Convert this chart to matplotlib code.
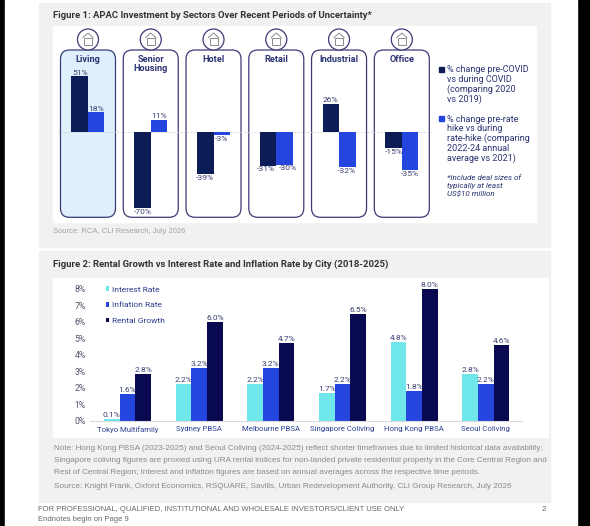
import matplotlib
matplotlib.use("Agg")
import matplotlib.pyplot as plt
from matplotlib.patches import FancyBboxPatch, Rectangle, Circle, Polygon
import numpy as np

W, H = 590, 526

# ---- Figure 1 data
sectors = ['Living', 'Senior\nHousing', 'Hotel', 'Retail', 'Industrial', 'Office']
covid_change = [51, -70, -39, -31, 26, -15]
ratehike_change = [18, 11, -3, -30, -32, -35]
fig1_legend = [['% change pre-COVID', 'vs during COVID', '(comparing 2020', 'vs 2019)'],
               ['% change pre-rate', 'hike vs during', 'rate-hike (comparing',
                '2022-24 annual', 'average vs 2021)']]
fig1_note = ['*Include deal sizes of', 'typically at least', 'US$10 million']

# ---- Figure 2 data
cities = ['Tokyo Multifamily', 'Sydney PBSA', 'Melbourne PBSA',
          'Singapore Coliving', 'Hong Kong PBSA', 'Seoul Coliving']
interest_rate = [0.1, 2.2, 2.2, 1.7, 4.8, 2.8]
inflation_rate = [1.6, 3.2, 3.2, 2.2, 1.8, 2.2]
rental_growth = [2.8, 6.0, 4.7, 6.5, 8.0, 4.6]
fig2_series = ['Interest Rate', 'Inflation Rate', 'Rental Growth']
fig2_yticks = [0, 1, 2, 3, 4, 5, 6, 7, 8]

note_lines = ['Note: Hong Kong PBSA (2023-2025) and Seoul Coliving (2024-2025) reflect shorter timeframes due to limited historical data availability;',
              'Singapore coliving figures are proxied using URA rental indices for non-landed private residential property in the Core Central Region and',
              'Rest of Central Region; Interest and inflation figures are based on annual averages across the respective time periods.']
source2 = 'Source: Knight Frank, Oxford Economics, RSQUARE, Savills, Urban Redevelopment Authority, CLI Group Research, July 2026'
source1 = 'Source: RCA, CLI Research, July 2026'
title1 = 'Figure 1: APAC Investment by Sectors Over Recent Periods of Uncertainty*'
title2 = 'Figure 2: Rental Growth vs Interest Rate and Inflation Rate by City (2018-2025)'
footer = ['FOR PROFESSIONAL, QUALIFIED, INSTITUTIONAL AND WHOLESALE INVESTORS/CLIENT USE ONLY',
          'Endnotes begin on Page 9']

NAVY = '#0c1c56'
BLUE = '#2446df'
CYAN = '#6fe6ea'
RENT = '#08094f'
OUTLINE = '#3c3a78'
LABEL = '#2a3272'
VAL = '#3b4172'

plt.rcParams['font.family'] = ['Roboto', 'DejaVu Sans']

fig = plt.figure(figsize=(W / 100, H / 100), dpi=100)
fig.patch.set_facecolor('black')

bg = fig.add_axes([0, 0, 1, 1])
bg.set_xlim(0, W)
bg.set_ylim(H, 0)
bg.axis('off')


def px_axes(x0, y0, x1, y1):
    a = fig.add_axes([x0 / W, 1 - y1 / H, (x1 - x0) / W, (y1 - y0) / H])
    a.patch.set_alpha(0)
    return a


def to_bg(ax, x, y):
    return bg.transData.inverted().transform(ax.transData.transform((x, y)))


# page + grey panels + white chart boxes
bg.add_patch(Rectangle((5, 0), 572, H, color='white', zorder=0))
bg.add_patch(Rectangle((39, 3), 511, 244, color='#f1f1f1', zorder=1))
bg.add_patch(Rectangle((39, 251), 511, 251, color='#f1f1f1', zorder=1))
bg.add_patch(Rectangle((53, 26), 483, 196, color='white', zorder=2))
bg.add_patch(Rectangle((53, 278), 495, 159, color='white', zorder=2))

# ---------------- Figure 1
ax1 = px_axes(56.6, 50, 433.2, 217.3)
ax1.set_xlim(-0.5, 5.5)
ax1.set_ylim(-78.3, 75.2)
ax1.axis('off')
x1 = np.arange(len(sectors))
bw1 = 0.263
ax1.axhline(0, color='#cfcfcf', lw=0.6, ls=(0, (2, 2)), zorder=1)
b_covid = ax1.bar(x1 - bw1 / 2, covid_change, bw1, color=NAVY, zorder=2)
b_rate = ax1.bar(x1 + bw1 / 2, ratehike_change, bw1, color=BLUE, zorder=2)
# retail labels sit side by side, push them apart a little
nudge = {(3, 0): -1.8, (3, 1): 2.2}
for k, (bars, vals) in enumerate(((b_covid, covid_change), (b_rate, ratehike_change))):
    for i, (b, v) in enumerate(zip(bars, vals)):
        ax1.annotate(f'{v}%', (b.get_x() + b.get_width() / 2, v),
                     xytext=(nudge.get((i, k), 0), 0.5 if v >= 0 else -0.5),
                     textcoords='offset points',
                     ha='center', va='bottom' if v >= 0 else 'top',
                     fontsize=6.1, color=VAL, zorder=3)

for i, name in enumerate(sectors):
    cx, ytop = to_bg(ax1, i, ax1.get_ylim()[1])
    _, ybot = to_bg(ax1, i, ax1.get_ylim()[0])
    face = '#ddf0fc' if i == 0 else 'white'
    bg.add_patch(FancyBboxPatch((cx - 27.5, ytop), 55, ybot - ytop,
                                boxstyle='round,pad=0,rounding_size=9',
                                fc=face, ec=OUTLINE, lw=0.9, zorder=3))
    bg.add_patch(Circle((cx, 39.5), 10.5, fc='white', ec=OUTLINE, lw=0.9, zorder=4))
    # small building glyph
    bg.add_patch(Rectangle((cx - 4, 38), 8, 7, fc='none', ec='#7a7a7a', lw=0.6, zorder=5))
    bg.add_patch(Polygon([(cx - 5.5, 38), (cx, 33), (cx + 5.5, 38)], closed=False,
                         fill=False, ec='#7a7a7a', lw=0.6, zorder=5))
    bg.text(cx, 54.5, name, ha='center', va='top', fontsize=6.6, fontweight='bold',
            color=LABEL, linespacing=1.1, zorder=5)

# legend figure 1
for k, (lines, col) in enumerate(zip(fig1_legend, (NAVY, BLUE))):
    y0 = 70 if k == 0 else 119
    bg.add_patch(Rectangle((438.5, y0 - 2.7), 5, 5, color=col, zorder=5))
    for j, ln in enumerate(lines):
        bg.text(447, y0 + j * 9.8, ln, ha='left', va='center', fontsize=6.5,
                color=LABEL, zorder=5)
for j, ln in enumerate(fig1_note):
    bg.text(447, 177.7 + j * 8.4, ln, ha='left', va='center', fontsize=5.8,
            style='italic', color=LABEL, zorder=5)

bg.text(52.7, 15.7, title1, ha='left', va='center', fontsize=6.8, fontweight='bold',
        color='#333333', zorder=5)
bg.text(52.7, 231.3, source1, ha='left', va='center', fontsize=5.5,
        family=['Liberation Sans'], color='#a3a3a3', zorder=5)

# ---------------- Figure 2
ax2 = px_axes(90, 280, 522, 420.5)
ax2.set_xlim(-0.523, 5.506)
ax2.set_ylim(0, 8.54)
x2 = np.arange(len(cities))
bw2 = 0.219
b_int = ax2.bar(x2 - bw2, interest_rate, bw2, color=CYAN, zorder=2)
b_inf = ax2.bar(x2, inflation_rate, bw2, color=BLUE, zorder=2)
b_ren = ax2.bar(x2 + bw2, rental_growth, bw2, color=RENT, zorder=2)
for bars, vals in ((b_int, interest_rate), (b_inf, inflation_rate), (b_ren, rental_growth)):
    for b, v in zip(bars, vals):
        ax2.annotate(f'{v:.1f}%', (b.get_x() + b.get_width() / 2, v),
                     xytext=(0, 0.7), textcoords='offset points',
                     ha='center', va='bottom', fontsize=6.0, color=VAL, zorder=3)
for s in ('top', 'right', 'left'):
    ax2.spines[s].set_visible(False)
ax2.spines['bottom'].set_color('#dadada')
ax2.spines['bottom'].set_linewidth(0.8)
ax2.set_yticks(fig2_yticks)
ax2.set_yticklabels([f'{t}%' for t in fig2_yticks])
ax2.set_xticks(x2)
ax2.set_xticklabels(cities)
ax2.tick_params(axis='y', length=0, pad=3.1, labelsize=6.2, labelcolor='#50556e')
ax2.tick_params(axis='x', length=0, pad=4.2, labelsize=5.6, labelcolor='#2c3f96')
ax2.legend([b_int, b_inf, b_ren], fig2_series, loc='upper left',
           bbox_to_anchor=(0.036, 0.955), frameon=False, fontsize=6.0,
           handlelength=0.45, handleheight=0.45, handletextpad=0.35,
           labelspacing=1.15, borderaxespad=0, borderpad=0, labelcolor='#2a3a8c')

bg.text(52.7, 264, title2, ha='left', va='center', fontsize=6.8, fontweight='bold',
        color='#333333', zorder=5)
for j, ln in enumerate(note_lines):
    bg.text(54, 449 + j * 11.5, ln, ha='left', va='center', fontsize=5.85,
            family=['Liberation Sans'], color='#8a8a8a', zorder=5)
bg.text(54, 486.5, source2, ha='left', va='center', fontsize=5.85,
        family=['Liberation Sans'], color='#8a8a8a', zorder=5)
for j, ln in enumerate(footer):
    bg.text(38, 509.3 + j * 10.4, ln, ha='left', va='center', fontsize=5.5,
            family=['Liberation Sans'], color='#666666', zorder=5)
bg.text(546, 509.3, '2', ha='right', va='center', fontsize=5.8,
        family=['Liberation Sans'], color='#666666', zorder=5)

fig.savefig('out.png', dpi=100, facecolor=fig.get_facecolor())
